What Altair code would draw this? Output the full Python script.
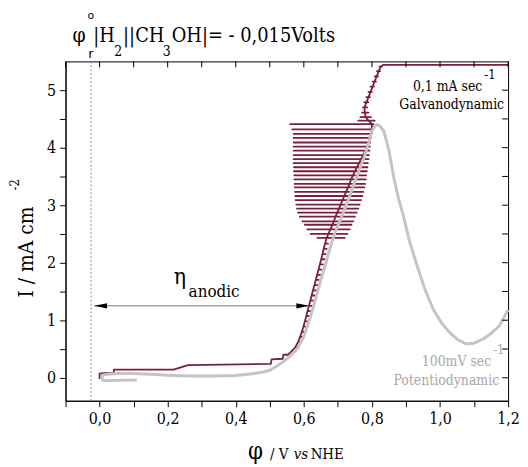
import altair as alt
import pandas as pd

# ---------------- data ----------------
grey_x = [0.109, 0.010, 0.007, 0.010, 0.040, 0.080, 0.150, 0.200, 0.270, 0.330,
          0.400, 0.450, 0.480, 0.500, 0.520, 0.540, 0.560, 0.580, 0.600, 0.620,
          0.635, 0.650, 0.665, 0.678, 0.690, 0.704, 0.718, 0.733, 0.748, 0.762,
          0.777, 0.790, 0.800, 0.808, 0.815, 0.823, 0.835, 0.850, 0.864, 0.878,
          0.893, 0.910, 0.930, 0.955, 0.980, 1.005, 1.028, 1.050, 1.077, 1.100,
          1.126, 1.150, 1.174, 1.200]
grey_y = [-0.04, -0.05, 0.00, 0.05, 0.07, 0.08, 0.06, 0.045, 0.03, 0.03,
          0.04, 0.07, 0.10, 0.13, 0.20, 0.28, 0.38, 0.50, 0.72, 1.07,
          1.38, 1.70, 2.00, 2.28, 2.50, 2.70, 2.90, 3.13, 3.38, 3.60,
          3.83, 4.08, 4.29, 4.37, 4.40, 4.38, 4.29, 3.95, 3.48, 3.12,
          2.80, 2.38, 2.00, 1.55, 1.19, 0.95, 0.79, 0.67, 0.59, 0.60,
          0.67, 0.77, 0.90, 1.18]

low_x = [0.000, 0.000, 0.013, 0.042, 0.042, 0.217, 0.260, 0.503, 0.505, 0.538, 0.540, 0.553]
low_y = [-0.02, 0.07, 0.08, 0.08, 0.14, 0.14, 0.22, 0.24, 0.32, 0.33, 0.40, 0.40]

lvl_y = [0.45, 0.53, 0.62, 0.71, 0.80, 0.89, 0.98, 1.07, 1.16, 1.25, 1.34, 1.43, 1.52, 1.61,
         1.70, 1.79, 1.88, 1.97, 2.06, 2.15, 2.24, 2.33,
         2.43, 2.50, 2.58, 2.66, 2.72, 2.80, 2.87, 2.94, 3.01, 3.09, 3.16, 3.23, 3.31, 3.37,
         3.45, 3.52, 3.59, 3.66, 3.73, 3.80, 3.87, 3.95, 4.02, 4.09, 4.17, 4.24, 4.32, 4.41,
         4.47, 4.53, 4.61, 4.70, 4.79, 4.88, 4.97, 5.06, 5.15, 5.24, 5.33, 5.41]
lvl_c = [0.562, 0.575, 0.583, 0.589, 0.594, 0.599, 0.603, 0.607, 0.611, 0.615, 0.619, 0.623, 0.627, 0.631,
         0.635, 0.639, 0.643, 0.647, 0.651, 0.655, 0.658, 0.662,
         0.667, 0.672, 0.678, 0.684, 0.688, 0.693, 0.698, 0.703, 0.708, 0.714, 0.719, 0.724, 0.730, 0.734,
         0.739, 0.744, 0.750, 0.756, 0.762, 0.768, 0.774, 0.781, 0.787, 0.791, 0.795, 0.798, 0.800, 0.800,
         0.790, 0.782, 0.779, 0.778, 0.784, 0.790, 0.796, 0.802, 0.808, 0.814, 0.820, 0.826]
lvl_l = [0.562, 0.575, 0.583, 0.589, 0.594, 0.599, 0.603, 0.607, 0.611, 0.615, 0.619, 0.623, 0.627, 0.631,
         0.635, 0.639, 0.643, 0.647, 0.651, 0.655, 0.658, 0.662,
         0.640, 0.620, 0.610, 0.603, 0.596, 0.588, 0.583, 0.580, 0.578, 0.576, 0.575, 0.574, 0.573, 0.573,
         0.572, 0.572, 0.571, 0.571, 0.570, 0.570, 0.570, 0.570, 0.570, 0.570, 0.570, 0.570, 0.566, 0.560,
         0.760, 0.766, 0.771, 0.774, 0.778, 0.784, 0.790, 0.796, 0.802, 0.808, 0.815, 0.822]
lvl_r = [0.571, 0.584, 0.592, 0.598, 0.603, 0.608, 0.612, 0.616, 0.620, 0.624, 0.628, 0.632, 0.636, 0.640,
         0.644, 0.648, 0.652, 0.656, 0.660, 0.664, 0.667, 0.671,
         0.720, 0.728, 0.735, 0.740, 0.745, 0.750, 0.755, 0.760, 0.764, 0.768, 0.772, 0.775, 0.778, 0.780,
         0.782, 0.783, 0.785, 0.787, 0.788, 0.790, 0.791, 0.793, 0.794, 0.795, 0.797, 0.800, 0.800, 0.805,
         0.808, 0.797, 0.790, 0.786, 0.789, 0.794, 0.800, 0.806, 0.812, 0.818, 0.824, 0.829]

top_x = [0.834, 1.200]
top_y = [5.44, 5.44]

arrow_x = [-0.016, 0.616]
arrow_y = [1.25]
phi_r_x = [-0.025]

x_ticks = [-0.1, 0.0, 0.1, 0.2, 0.3, 0.4, 0.5, 0.6, 0.7, 0.8, 0.9, 1.0, 1.1, 1.2]
y_ticks = [0.0, 0.5, 1.0, 1.5, 2.0, 2.5, 3.0, 3.5, 4.0, 4.5, 5.0]

# ---------------- chart ----------------
W, H = 446, 342
SERIF = "DejaVu Serif Condensed, DejaVu Serif, serif"
SANS = "DejaVu Sans, sans-serif"
MAROON = "#7a1e3e"
GREY = "#c4c4c4"
ANN_GREY = "#a8a8a8"

xs = alt.Scale(domain=[-0.1, 1.2], nice=False, zero=False)
ys = alt.Scale(domain=[-0.4, 5.5], nice=False, zero=False)

grey_df = pd.DataFrame({"x": grey_x, "y": grey_y, "o": list(range(len(grey_x)))})

rows = list(zip(low_x, low_y))
for y, c, l, r in zip(lvl_y, lvl_c, lvl_l, lvl_r):
    rows += [(c, y), (l, y), (r, y), (c, y)]
rows += list(zip(top_x, top_y))
maroon_df = pd.DataFrame(rows, columns=["x", "y"])
maroon_df["o"] = list(range(len(rows)))

x_axis = alt.Axis(values=x_ticks, title=None, grid=False, tickSize=6, labelFontSize=16,
                  labelFont=SERIF, labelPadding=4, domainColor="black", tickColor="black",
                  labelColor="black", labelAngle=0, labelOverlap=False, labelFlush=False,
                  labelExpr="round(datum.value*10) % 2 == 0 ? replace(format(datum.value, '.1f'), '.', ',') : ''")
y_axis = alt.Axis(values=y_ticks, title=None, grid=False, tickSize=6, labelFontSize=16,
                  labelFont=SERIF, labelPadding=4, domainColor="black", tickColor="black",
                  labelColor="black", labelOverlap=False, labelFlush=False,
                  labelExpr="abs(datum.value - round(datum.value)) < 0.01 ? format(datum.value, 'd') : ''")


def X(f):
    return alt.X(f, scale=xs, axis=x_axis)


def Y(f):
    return alt.Y(f, scale=ys, axis=y_axis)


grey = alt.Chart(grey_df).mark_line(color=GREY, strokeWidth=3, strokeJoin="round").encode(
    x=X("x:Q"), y=Y("y:Q"), order="o:Q")

maroon = alt.Chart(maroon_df).mark_line(color=MAROON, strokeWidth=1.8, strokeJoin="round").encode(
    x=X("x:Q"), y=Y("y:Q"), order="o:Q")

top_ticks = alt.Chart(pd.DataFrame({"v": x_ticks})).mark_rule(color="black").encode(
    x=X("v:Q"), y=alt.value(0), y2=alt.value(6))
right_ticks = alt.Chart(pd.DataFrame({"v": y_ticks})).mark_rule(color="black").encode(
    y=Y("v:Q"), x=alt.value(W), x2=alt.value(W - 6))

dotted = alt.Chart(pd.DataFrame({"x": phi_r_x})).mark_rule(
    color="#8a8a8a", strokeDash=[2, 2], strokeWidth=1).encode(x=X("x:Q"))

arrow_df = pd.DataFrame({"x": [arrow_x[0]], "x2": [arrow_x[1]], "y": arrow_y})
arrow_line = alt.Chart(arrow_df).mark_rule(color="#777777", strokeWidth=1).encode(
    x=X("x:Q"), x2="x2:Q", y=Y("y:Q"))
head_l = alt.Chart(pd.DataFrame({"x": [arrow_x[0]], "y": arrow_y})).mark_point(
    shape="M0,0L2,-0.4L2,0.4Z", filled=True, color="black", opacity=1, size=169).encode(
    x=X("x:Q"), y=Y("y:Q"))
head_r = alt.Chart(pd.DataFrame({"x": [arrow_x[1]], "y": arrow_y})).mark_point(
    shape="M0,0L-2,-0.4L-2,0.4Z", filled=True, color="black", opacity=1, size=169).encode(
    x=X("x:Q"), y=Y("y:Q"))


def txt(s, px, py, size, font=SERIF, color="black", style="normal", angle=0, align="left"):
    return alt.Chart(pd.DataFrame({"t": [s]})).mark_text(
        align=align, baseline="alphabetic", fontSize=size, color=color, font=font,
        fontStyle=style, angle=angle).encode(text="t:N", x=alt.value(px), y=alt.value(py))


texts = [
    # title
    txt("φ", 7, -20, 21),
    txt("o", 22, -43, 11, SANS),
    txt("r", 23, -3, 13, SANS),
    txt("|H", 28, -20, 20),
    txt("2", 49, -5, 14),
    txt("||CH", 58, -20, 20),
    txt("3", 98, -5, 14),
    txt("OH|= - 0,015Volts", 107, -20, 20),
    # galvanodynamic
    txt("0,1 mA sec", 420, 30, 14, align="right"),
    txt("-1", 422, 18, 13),
    txt("Galvanodynamic", 442, 48, 14, align="right"),
    # potentiodynamic
    txt("100mV sec", 429, 307, 14, color=ANN_GREY, align="right"),
    txt("-1", 431, 295, 13, color=ANN_GREY),
    txt("Potentiodynamic", 437, 326, 14, color=ANN_GREY, align="right"),
    # eta anodic
    txt("η", 109, 224, 23),
    txt("anodic", 124, 237, 17),
    # y title
    txt("I / mA cm", -33, 238, 21, angle=270),
    txt("-2", -47, 130, 13, angle=270),
    # x title
    txt("φ", 184, 401, 24),
    txt("/ V", 206, 401, 15),
    txt("vs", 230, 401, 15, style="italic"),
    txt("NHE", 247, 401, 15),
]

chart = alt.layer(dotted, maroon, grey, arrow_line, head_l, head_r, top_ticks, right_ticks, *texts).properties(
    width=W, height=H,
    padding={"left": 58, "top": 52, "right": 12, "bottom": 72},
    autosize=alt.AutoSizeParams(type="none"),
).configure(background="white").configure_view(stroke="black", strokeWidth=1)

chart.save("out.html", embed_options={"renderer": "svg", "actions": False})
